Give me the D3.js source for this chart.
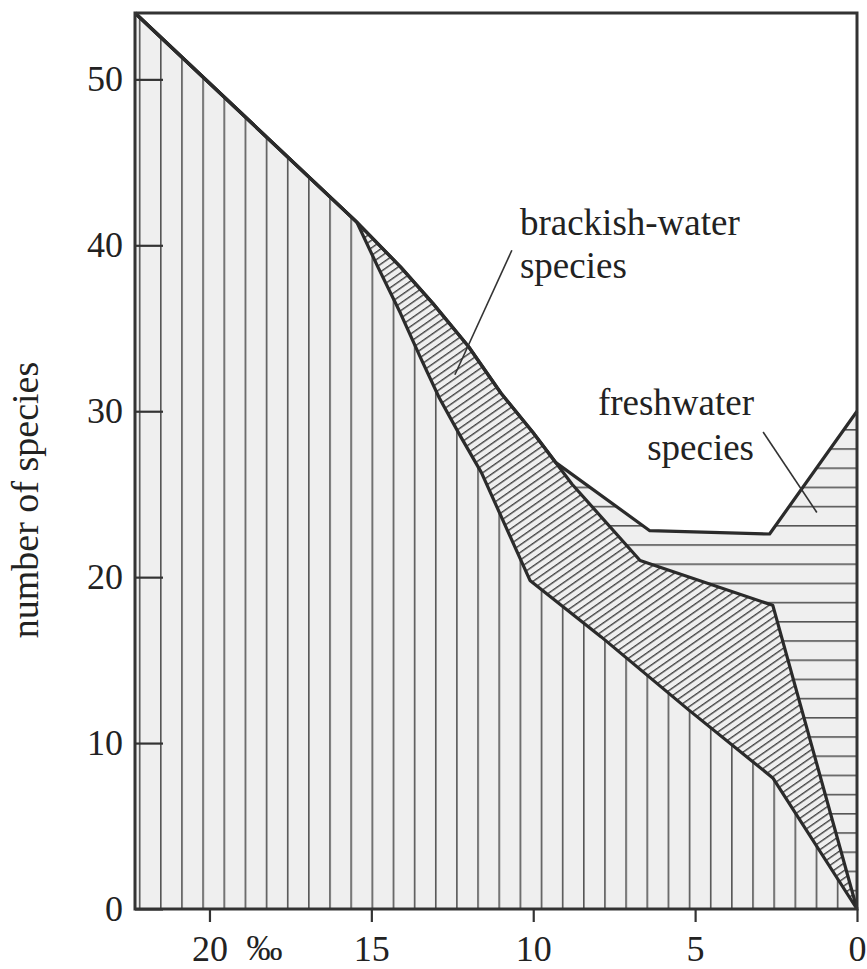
<!DOCTYPE html>
<head>
    <meta charset='utf-8'>
    <script src="https://d3js.org/d3.v7.min.js"></script>
    <style>
        body { margin:0; background:#fff; }
        text { font-family:'Liberation Serif','Times New Roman',serif; fill:#222; }
    </style>
</head>
<body>
    <div id='container'></div>
    <script>
        // salinity (per mille) vs number of species
        const xTicks=[20,15,10,5,0];
        const yTicks=[0,10,20,30,40,50];

        // top line, shared by all three groups down to ~9.3 per mille
        const upperShared=[[22.3,54],[15.45,41.4],[14.1,38.7],[13.1,36.5],[12.0,33.9],[11.0,31.1],[10.0,28.7],[9.3,26.9]];
        // after the split: total (top of freshwater) and top of brackish
        const totalTail=[[6.4,22.8],[2.7,22.6],[0,30]];
        const brackishTail=[[8.8,25.6],[6.7,21.0],[2.6,18.3],[0,0]];
        // top of marine species
        const marineCurve=[[22.3,54],[15.45,41.4],[14.8,38.7],[14.1,35.9],[13.5,33.3],[12.9,30.8],[12.25,28.5],[11.6,26.3],[10.1,19.8],[7.9,16.4],[5.2,12.0],[2.6,7.9],[0,0]];

        // labels with leader lines (data units)
        const brackishLabel=['brackish-water','species'];
        const brackishLeader=[[10.66,39.7],[12.42,32.2]];
        const freshLabel=['freshwater','species'];
        const freshLeader=[[2.90,28.75],[1.24,23.9]];

        const totalCurve=upperShared.concat(totalTail);
        const brackishCurve=upperShared.concat(brackishTail);

        const w=867;
        const h=969;
        const mLeft=135, mRight=857, mTop=13, mBottom=909;

        const xScale=d3.scaleLinear()
                       .domain([22.3,0])
                       .range([mLeft,mRight]);
        const yScale=d3.scaleLinear()
                       .domain([0,54])
                       .range([mBottom,mTop]);

        const svg=d3.select('#container')
                    .append('svg')
                    .attr('width',w)
                    .attr('height',h);

        const defs=svg.append('defs');
        // vertical hatch = marine
        const pv=defs.append('pattern').attr('id','hatchV')
                     .attr('patternUnits','userSpaceOnUse')
                     .attr('x',160).attr('y',0).attr('width',21.15).attr('height',10);
        pv.append('rect').attr('width',21.15).attr('height',10).attr('fill','#efefef');
        pv.append('line').attr('x1',0.8).attr('x2',0.8).attr('y1',0).attr('y2',10)
          .attr('stroke','#555').attr('stroke-width',1.6);
        // horizontal hatch = freshwater
        const ph=defs.append('pattern').attr('id','hatchH')
                     .attr('patternUnits','userSpaceOnUse')
                     .attr('x',0).attr('y',429).attr('width',10).attr('height',19.2);
        ph.append('rect').attr('width',10).attr('height',19.2).attr('fill','#efefef');
        ph.append('line').attr('x1',0).attr('x2',10).attr('y1',0.8).attr('y2',0.8)
          .attr('stroke','#555').attr('stroke-width',1.6);
        // diagonal hatch = brackish
        const pd=defs.append('pattern').attr('id','hatchD')
                     .attr('patternUnits','userSpaceOnUse')
                     .attr('width',10).attr('height',6.2)
                     .attr('patternTransform','rotate(-35)');
        pd.append('rect').attr('width',10).attr('height',6.2).attr('fill','#efefef');
        pd.append('line').attr('x1',0).attr('x2',10).attr('y1',0.7).attr('y2',0.7)
          .attr('stroke','#444').attr('stroke-width',1.4);

        const area=d3.area()
                     .x(d=>xScale(d[0]))
                     .y0(yScale(0))
                     .y1(d=>yScale(d[1]));
        const line=d3.line()
                     .x(d=>xScale(d[0]))
                     .y(d=>yScale(d[1]));

        // stacked from back to front
        svg.append('path').attr('d',area(totalCurve)).attr('fill','url(#hatchH)');
        svg.append('path').attr('d',area(brackishCurve)).attr('fill','url(#hatchD)');
        svg.append('path').attr('d',area(marineCurve)).attr('fill','url(#hatchV)');

        [totalCurve,brackishCurve,marineCurve].forEach(c=>{
            svg.append('path')
               .attr('d',line(c))
               .attr('fill','none')
               .attr('stroke','#2b2b2b')
               .attr('stroke-width',3.2)
               .attr('stroke-linejoin','round');
        });

        // frame
        svg.append('rect')
           .attr('x',mLeft).attr('y',mTop)
           .attr('width',mRight-mLeft).attr('height',mBottom-mTop)
           .attr('fill','none')
           .attr('stroke','#333')
           .attr('stroke-width',3);

        const yAxis=d3.axisLeft(yScale)
                      .tickValues(yTicks)
                      .tickSize(-28)
                      .tickPadding(12)
                      .tickSizeOuter(0);
        const xAxis=d3.axisBottom(xScale)
                      .tickValues(xTicks)
                      .tickSize(13)
                      .tickPadding(13)
                      .tickSizeOuter(0);

        const gy=svg.append('g')
                    .attr('transform','translate('+mLeft+',0)')
                    .call(yAxis);
        const gx=svg.append('g')
                    .attr('transform','translate(0,'+mBottom+')')
                    .call(xAxis);
        [gx,gy].forEach(g=>{
            g.select('.domain').remove();
            g.selectAll('line').attr('stroke','#333').attr('stroke-width',2.2);
            g.selectAll('text')
             .attr('fill','#222')
             .style('font-size','36px')
             .style('font-family',"'Liberation Serif',serif");
        });

        svg.append('text')
           .attr('x',xScale(18.3))
           .attr('y',960)
           .attr('text-anchor','middle')
           .style('font-size','36px')
           .text('‰');

        svg.append('text')
           .attr('transform','translate(38,500) rotate(-90)')
           .attr('text-anchor','middle')
           .style('font-size','38px')
           .text('number of species');

        // annotations
        svg.selectAll('.blab')
           .data(brackishLabel)
           .enter()
           .append('text')
           .attr('x',xScale(10.41))
           .attr('y',(d,i)=>yScale(40.6)+i*43)
           .style('font-size','37px')
           .text(d=>d);
        svg.append('path')
           .attr('d',line(brackishLeader))
           .attr('stroke','#333').attr('stroke-width',1.6);

        svg.selectAll('.flab')
           .data(freshLabel)
           .enter()
           .append('text')
           .attr('x',xScale(3.18))
           .attr('y',(d,i)=>yScale(29.8)+i*45)
           .attr('text-anchor','end')
           .style('font-size','37px')
           .text(d=>d);
        svg.append('path')
           .attr('d',line(freshLeader))
           .attr('stroke','#333').attr('stroke-width',1.6);
    </script>
</body>
